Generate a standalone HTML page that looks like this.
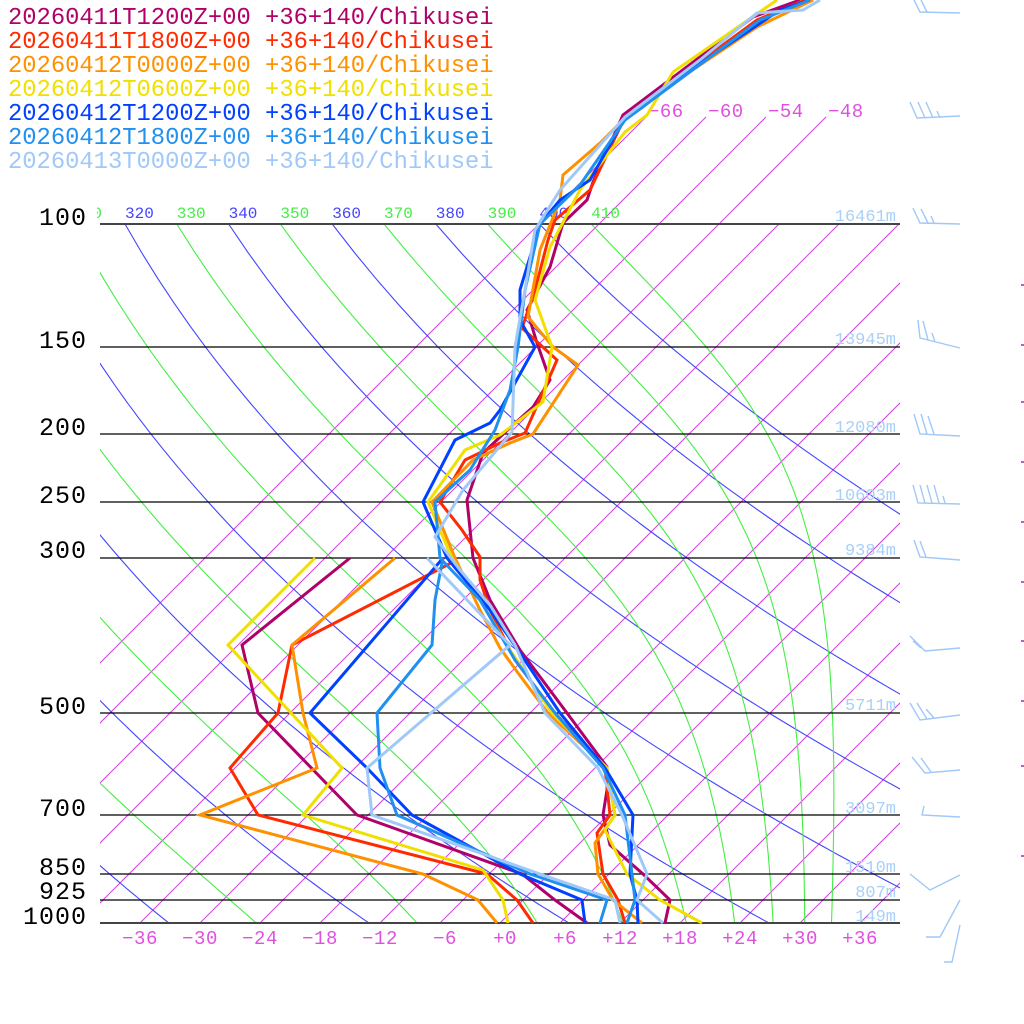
<!DOCTYPE html>
<html><head><meta charset="utf-8"><style>
html,body{margin:0;padding:0;background:#fff;}
svg{display:block;}
text{font-family:"Liberation Mono","DejaVu Sans Mono",monospace;}
</style></head><body>
<svg id="s" xmlns="http://www.w3.org/2000/svg" width="1024" height="1024" viewBox="0 0 1024 1024">
<rect width="1024" height="1024" fill="#fff"/>
<defs>
<clipPath id="c"><rect x="100" y="224" width="800" height="699"/></clipPath>
<clipPath id="ci"><rect x="100" y="110" width="800" height="813"/></clipPath>
<clipPath id="cl"><rect x="97" y="190" width="820" height="40"/></clipPath>
</defs>
<g id="grid"></g>
<g id="plines" stroke="#000" stroke-width="1.3">
<line x1="100" y1="224" x2="900" y2="224" stroke="#444" stroke-width="2"/>
<line x1="100" y1="347" x2="900" y2="347"/>
<line x1="100" y1="434" x2="900" y2="434"/>
<line x1="100" y1="502" x2="900" y2="502"/>
<line x1="100" y1="558" x2="900" y2="558"/>
<line x1="100" y1="713" x2="900" y2="713"/>
<line x1="100" y1="815" x2="900" y2="815"/>
<line x1="100" y1="874" x2="900" y2="874"/>
<line x1="100" y1="900" x2="900" y2="900"/>
<line x1="100" y1="923" x2="900" y2="923" stroke="#444" stroke-width="2"/>
</g>
<g font-size="25" fill="#000" text-anchor="end" letter-spacing="1">
<text x="87" y="225">100</text><text x="87" y="348">150</text><text x="87" y="435">200</text>
<text x="87" y="503">250</text><text x="87" y="558">300</text><text x="87" y="714">500</text>
<text x="87" y="816">700</text><text x="87" y="875">850</text><text x="87" y="899">925</text>
<text x="87" y="924">1000</text>
</g>
<g font-size="17" fill="#a8d0f8" text-anchor="end">
<text x="896" y="221">16461m</text><text x="896" y="344">13945m</text><text x="896" y="432">12080m</text>
<text x="896" y="500">10603m</text><text x="896" y="555">9384m</text><text x="896" y="710">5711m</text>
<text x="896" y="813">3097m</text><text x="896" y="872">1510m</text><text x="896" y="897">807m</text>
<text x="896" y="921">149m</text>
</g>
<g font-size="19" fill="#e050e0" text-anchor="middle" letter-spacing="0.5">
<text x="140" y="944">−36</text><text x="200" y="944">−30</text><text x="260" y="944">−24</text>
<text x="320" y="944">−18</text><text x="380" y="944">−12</text><text x="445" y="944">−6</text>
<text x="505" y="944">+0</text><text x="565" y="944">+6</text><text x="620" y="944">+12</text>
<text x="680" y="944">+18</text><text x="740" y="944">+24</text><text x="800" y="944">+30</text>
<text x="860" y="944">+36</text>
</g>
<g font-size="19" fill="#e050e0" letter-spacing="0.5">
<text x="648" y="117">−66</text><text x="708" y="117">−60</text><text x="768" y="117">−54</text><text x="828" y="117">−48</text>
</g>
<g id="thl" font-size="16" clip-path="url(#cl)"></g>
<g id="prof" fill="none" stroke-width="3" stroke-linejoin="miter"></g>
<g fill="none" stroke="#a0c8f8" stroke-width="1.4">
<path d="M960,13 L920,12 L914,0 M927,12 L921,0"/>
<path d="M960,116 L917,118 L910,102 M925,118 L918,102 M933,118 L926,102 M940,118 L937,111"/>
<path d="M960,224 L920,223 L913,208 M928,223 L921,209 M934,223 L931,216"/>
<path d="M960,348 L920,338 L918,320 M928,340 L923,321 M935,342 L932,333"/>
<path d="M960,436 L920,434 L914,414 M927,434 L921,414 M934,434 L928,416"/>
<path d="M960,504 L918,503 L913,485 M925,503 L920,485 M932,503 L927,485 M939,503 L934,485 M945,503 L943,496"/>
<path d="M960,560 L920,557 L914,540 M926,557 L920,541"/>
<path d="M960,648 L925,651 L910,636 M921,648 L913,641"/>
<path d="M960,715 L920,720 L910,703 M927,719 L917,703 M934,718 L926,709"/>
<path d="M960,770 L925,773 L912,757 M931,772 L921,758"/>
<path d="M960,817 L922,815 L924,806"/>
<path d="M960,875 L930,890 L910,874"/>
<path d="M960,900 L940,937 L926,937 M960,925 L952,962 L944,962"/>
</g>
<g fill="#d050d0">
<rect x="1021" y="284" width="3" height="2"/><rect x="1021" y="344" width="3" height="2"/>
<rect x="1021" y="401" width="3" height="2"/><rect x="1021" y="461" width="3" height="2"/>
<rect x="1021" y="521" width="3" height="2"/><rect x="1021" y="581" width="3" height="2"/>
<rect x="1021" y="640" width="3" height="2"/><rect x="1021" y="700" width="3" height="2"/>
<rect x="1021" y="765" width="3" height="2"/><rect x="1021" y="855" width="3" height="2"/>
</g>
<g font-size="23.8">
<text x="8" y="24" fill="#b0006a">20260411T1200Z+00 +36+140/Chikusei</text>
<text x="8" y="48" fill="#ff2a00">20260411T1800Z+00 +36+140/Chikusei</text>
<text x="8" y="72" fill="#ff9000">20260412T0000Z+00 +36+140/Chikusei</text>
<text x="8" y="96" fill="#f0e000">20260412T0600Z+00 +36+140/Chikusei</text>
<text x="8" y="120" fill="#0040ff">20260412T1200Z+00 +36+140/Chikusei</text>
<text x="8" y="144" fill="#2090f0">20260412T1800Z+00 +36+140/Chikusei</text>
<text x="8" y="168" fill="#a0c8f8">20260413T0000Z+00 +36+140/Chikusei</text>
</g>
</svg>
<script>
(function(){
var NS='http://www.w3.org/2000/svg';
function Y(p){return 224+303.5*Math.log(p/100);}
function X(T,p){return 500+10*T+(923-Y(p));}
var grid=document.getElementById('grid');
function pl(pts,col,clip,w){var e=document.createElementNS(NS,'polyline');
e.setAttribute('points',pts.map(function(a){return a[0].toFixed(1)+','+a[1].toFixed(1);}).join(' '));
e.setAttribute('fill','none');e.setAttribute('stroke',col);e.setAttribute('stroke-width',w||1.1);
if(clip)e.setAttribute('clip-path','url(#'+clip+')');grid.appendChild(e);}
for(var T=-66;T<=42;T+=6){var top=(T<=-48)?117:224;
 var x0=500+10*T;pl([[x0,923],[x0+(923-top),top]],'#d040e0',T<=-48?'ci':'c',1);}
for(var th=200;th<=400;th+=20){var a=[];for(var p=100;p<=1000;p+=10){var t=th*Math.pow(p/1000,0.2857)-273.15;a.push([X(t,p),Y(p)]);}pl(a,'#4444ff','c');}
var Rd=287.04,cp=1005.7,Lv=2.501e6,eps=0.622;
function rs(Tk,p){var tc=Tk-273.15;var es=6.112*Math.exp(17.67*tc/(tc+243.5));return eps*es/(p-es);}
for(var th=250;th<=410;th+=20){var Tk=th*Math.pow(0.1,0.2857);var a=[];var p=100;
 a.push([X(Tk-273.15,p),Y(p)]);
 while(p<1000){var dp=1;var r=rs(Tk,p);var d=(Rd*Tk+Lv*r)/(p*(cp+Lv*Lv*r*eps/(Rd*Tk*Tk)));Tk+=d*dp;p+=dp;if(p%10===0)a.push([X(Tk-273.15,p),Y(p)]);}
 pl(a,'#44ee44','c');}
var thl=document.getElementById('thl');
for(var th=310;th<=410;th+=10){var t=th*Math.pow(0.1,0.2857)-273.15;var e=document.createElementNS(NS,'text');
 e.setAttribute('x',(X(t,100)).toFixed(1));e.setAttribute('y','218');e.setAttribute('fill',(th%20===0)?'#4444ff':'#44ee44');e.textContent=String(th);thl.appendChild(e);}
var P=[
['#b0006a',[[665,923],[670,900],[643,874],[610,845],[603,815],[607,790],[607,767],[567,713],[520,650],[490,600],[473,558],[467,500],[483,453],[513,425],[533,407],[550,380],[537,343],[527,310],[550,267],[563,223],[587,200],[593,182],[623,115],[753,17],[800,0]],
 [[587,923],[555,900],[522,874],[357,815],[258,713],[242,645],[350,558]]],
['#ff2a00',[[625,923],[618,900],[603,874],[597,833],[610,815],[605,768],[555,713],[515,660],[490,610],[480,580],[480,557],[462,530],[440,502],[465,460],[500,443],[525,433],[557,360],[522,328],[535,290],[548,240],[555,220],[590,190],[625,117],[757,20],[805,0]],
 [[533,923],[517,900],[487,874],[258,815],[230,768],[278,713],[292,645],[457,560]]],
['#ff9000',[[642,923],[613,900],[598,874],[595,843],[615,815],[607,768],[548,713],[518,673],[500,648],[480,610],[455,558],[432,502],[473,460],[510,443],[533,434],[578,365],[553,347],[528,317],[540,250],[560,200],[563,175],[600,143],[620,123],[643,107],[673,83],[757,27],[813,0]],
 [[497,923],[478,900],[423,874],[200,815],[317,768],[303,713],[292,645],[395,558]]],
['#f0e000',[[702,923],[660,900],[627,874],[605,830],[615,815],[607,768],[552,713],[510,650],[480,600],[452,558],[428,502],[465,450],[500,435],[543,402],[552,347],[535,300],[550,247],[580,190],[625,132],[647,115],[673,72],[777,0]],
 [[508,923],[503,900],[483,870],[303,815],[342,768],[228,645],[315,558]]],
['#0040ff',[[638,923],[637,900],[630,874],[633,815],[605,768],[560,713],[518,650],[490,610],[447,558],[423,502],[455,440],[490,423],[500,410],[535,347],[520,320],[520,290],[540,224],[560,200],[590,180],[625,118],[660,90],[780,10],[810,0]],
 [[585,923],[582,900],[520,874],[412,815],[367,768],[310,713],[443,558]]],
['#2090f0',[[627,923],[635,900],[632,874],[625,815],[603,768],[555,713],[515,660],[480,600],[440,558],[435,502],[470,470],[495,430],[510,390],[518,347],[525,290],[540,224],[580,185],[625,120],[760,20],[810,0]],
 [[600,923],[607,900],[530,874],[397,815],[380,768],[377,713],[432,645],[435,600],[443,558]]],
['#a0c8f8',[[663,923],[637,900],[647,874],[622,815],[598,768],[545,713],[515,645],[490,605],[460,570],[435,537],[463,490],[512,432],[515,347],[525,290],[535,230],[560,190],[625,117],[700,60],[757,13],[803,10],[820,0]],
 [[620,923],[615,900],[540,874],[372,815],[367,768],[510,645],[427,558]]]
];
var prof=document.getElementById('prof');
P.forEach(function(c){[c[2],c[1]].forEach(function(pts){var e=document.createElementNS(NS,'polyline');
 e.setAttribute('points',pts.map(function(a){return a.join(',');}).join(' '));e.setAttribute('stroke',c[0]);prof.appendChild(e);});});
})();
</script>
</body></html>
